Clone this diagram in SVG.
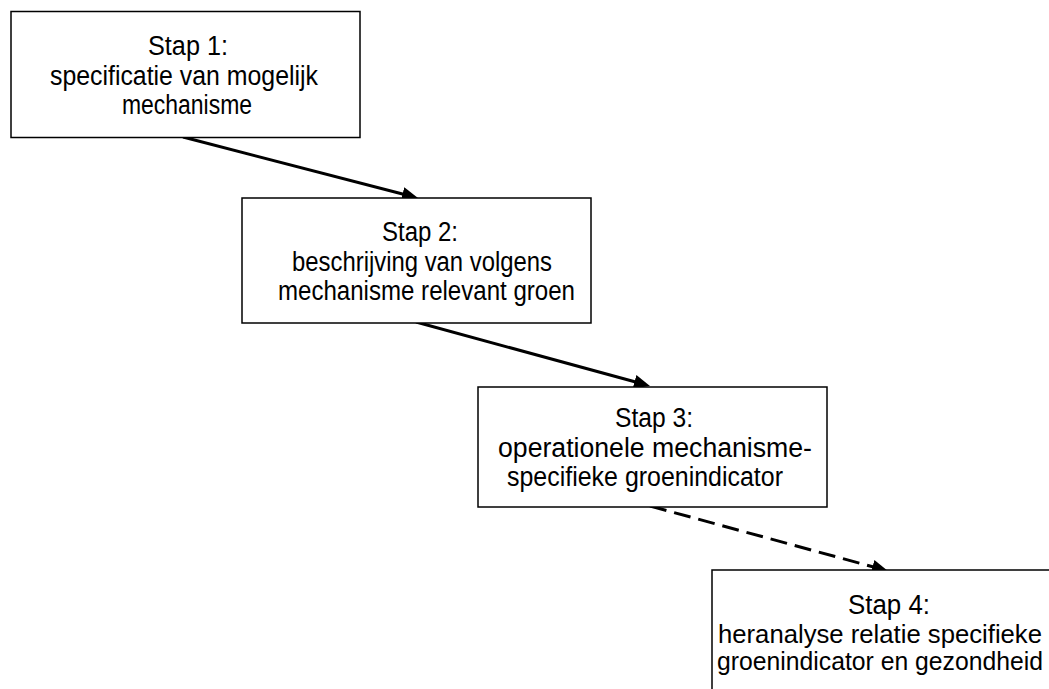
<svg xmlns="http://www.w3.org/2000/svg" width="1049" height="689" viewBox="0 0 1049 689">
  <style>
    .box { fill: #ffffff; stroke: #000000; stroke-width: 1.5; }
    .label { font-family: "Liberation Sans", Arial, sans-serif; font-size: 27px; fill: #000000; text-anchor: middle; }
    .label.small { font-size: 25px; }
    .flow { fill: none; stroke: #000000; stroke-width: 3; }
    .dashed { stroke-dasharray: 17 8; }
  </style>
  <defs>
    <marker id="arrowhead" markerUnits="userSpaceOnUse" markerWidth="18" markerHeight="15" refX="4" refY="7" orient="auto">
      <path d="M0,0 L16,7 L0,14 z" fill="#000000"/>
    </marker>
  </defs>

  <rect width="1049" height="689" fill="#ffffff"/>

  <g id="connectors">
    <line class="flow" x1="183" y1="137" x2="406.4" y2="195" marker-end="url(#arrowhead)"/>
    <line class="flow" x1="416" y1="322" x2="638.4" y2="382.8" marker-end="url(#arrowhead)"/>
    <line class="flow dashed" x1="650" y1="506" x2="876.4" y2="567.8" marker-end="url(#arrowhead)"/>
  </g>

  <g id="stap1">
    <rect class="box" x="11" y="11.5" width="349" height="126"/>
    <text class="label" x="188" y="55" textLength="80" lengthAdjust="spacingAndGlyphs">Stap 1:</text>
    <text class="label" x="184" y="85" textLength="268" lengthAdjust="spacingAndGlyphs">specificatie van mogelijk</text>
    <text class="label" x="187" y="114" textLength="130" lengthAdjust="spacingAndGlyphs">mechanisme</text>
  </g>

  <g id="stap2">
    <rect class="box" x="242" y="198" width="349" height="125"/>
    <text class="label" x="420" y="241" textLength="76" lengthAdjust="spacingAndGlyphs">Stap 2:</text>
    <text class="label" x="422" y="271" textLength="260" lengthAdjust="spacingAndGlyphs">beschrijving van volgens</text>
    <text class="label" x="426.5" y="300" textLength="297" lengthAdjust="spacingAndGlyphs">mechanisme relevant groen</text>
  </g>

  <g id="stap3">
    <rect class="box" x="478" y="387" width="349" height="120"/>
    <text class="label" x="654" y="427" textLength="78" lengthAdjust="spacingAndGlyphs">Stap 3:</text>
    <text class="label" x="655" y="457" textLength="314" lengthAdjust="spacingAndGlyphs">operationele mechanisme-</text>
    <text class="label" x="645" y="486" textLength="276" lengthAdjust="spacingAndGlyphs">specifieke groenindicator</text>
  </g>

  <g id="stap4">
    <rect class="box" x="712" y="570" width="349" height="130"/>
    <text class="label" x="889" y="614" textLength="82" lengthAdjust="spacingAndGlyphs">Stap 4:</text>
    <text class="label small" x="880" y="643" textLength="324" lengthAdjust="spacingAndGlyphs">heranalyse relatie specifieke</text>
    <text class="label small" x="880" y="670" textLength="326" lengthAdjust="spacingAndGlyphs">groenindicator en gezondheid</text>
  </g>
</svg>
